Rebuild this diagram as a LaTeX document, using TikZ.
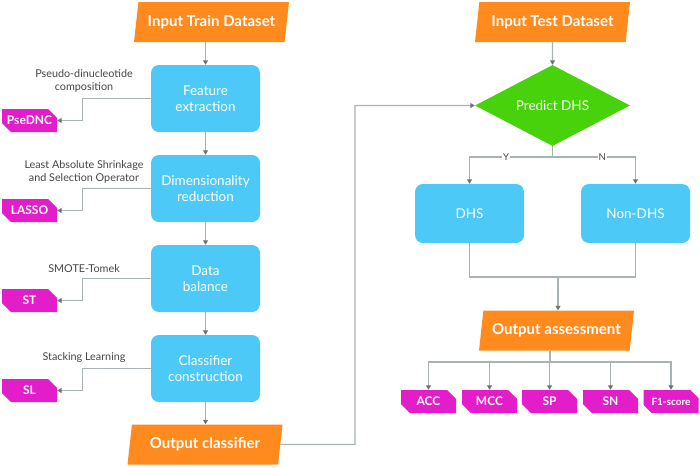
\documentclass[tikz,border=0pt]{standalone}
\usepackage{fontspec}
\setmainfont{Lato}
\usepackage{tikz}
\usetikzlibrary{shapes.geometric}
\usetikzlibrary{shapes.misc}
\usetikzlibrary{arrows.meta}
\definecolor{dsorange}{HTML}{FF8A1E}
\definecolor{dsblue}{HTML}{4DC9F8}
\definecolor{dsgreen}{HTML}{48D20C}
\definecolor{dsmagenta}{HTML}{E41DCB}
\definecolor{linegray}{HTML}{A9B2B4}
\definecolor{tipgray}{HTML}{6B7475}
\definecolor{textgray}{HTML}{454545}

\tikzset{
 io/.style={trapezium, trapezium left angle=72, trapezium right angle=108,
   trapezium stretches body, fill=dsorange, text=white, inner sep=0,
   font=\bfseries\fontsize{15}{18}\selectfont, minimum height=40, minimum width=155},
 stepbox/.style={rectangle, rounded corners=8, fill=dsblue, text=white, align=center,
   font=\fontsize{13.5}{16}\selectfont, minimum width=109, minimum height=67, inner sep=0},
 tag/.style={chamfered rectangle, chamfered rectangle corners={north east,south west},
   chamfered rectangle sep=4.5, fill=dsmagenta, text=white, inner sep=0,
   font=\bfseries\fontsize{12}{14}\selectfont, minimum width=55, minimum height=23},
 note/.style={text=textgray, align=center, font=\fontsize{10.8}{13}\selectfont},
 line/.style={draw=linegray, line width=1.1},
 conn/.style={line, -{Triangle[length=4.5,width=5,color=tipgray]}},
 yn/.style={fill=white, text=textgray, inner sep=1, font=\fontsize{9.5}{10}\selectfont}
}

\begin{document}
\begin{tikzpicture}[x=1pt,y=-1pt]
\useasboundingbox (0,0) rectangle (700,467);

% training branch
\node[io] (train) at (211.5,22) {Input Train Dataset};
\node[stepbox] (feat) at (205.5,98.5) {Feature\\extraction};
\node[stepbox] (dim) at (205.5,188.5) {Dimensionality\\reduction};
\node[stepbox] (bal) at (205.5,278.5) {Data\\balance};
\node[stepbox] (cls) at (205.5,368.5) {Classifier\\construction};
\node[io] (outcls) at (205,444.5) {Output classifier};

\node[tag] (psednc) at (29.5,120.5) {PseDNC};
\node[tag] (lasso) at (29.5,210.5) {LASSO};
\node[tag] (st) at (29.5,300.5) {ST};
\node[tag] (sl) at (29.5,390.5) {SL};

\node[note] (n1) at (84,80.5) {Pseudo-dinucleotide\\composition};
\node[note] (n2) at (84,171.5) {Least Absolute Shrinkage\\and Selection Operator};
\node[note] (n3) at (84,269) {SMOTE-Tomek};
\node[note] (n4) at (84,357.5) {Stacking Learning};

\draw[conn] (train.south -| feat.north) -- (feat.north);
\draw[conn] (feat) -- (dim);
\draw[conn] (dim) -- (bal);
\draw[conn] (bal) -- (cls);
\draw[conn] (cls.south) -- (cls.south |- outcls.north);

\draw[conn] (feat.west) -- ++(-68,0) |- (psednc.east);
\draw[conn] (dim.west) -- ++(-68,0) |- (lasso.east);
\draw[conn] (bal.west) -- ++(-68,0) |- (st.east);
\draw[conn] (cls.west) -- ++(-68,0) |- (sl.east);

% test branch
\node[io] (test) at (552.5,22) {Input Test Dataset};
\node[diamond, fill=dsgreen, text=white, inner sep=0, aspect=1.91,
  minimum width=155, minimum height=81, font=\fontsize{13.5}{16}\selectfont] (pred) at (552.5,105.5) {Predict DHS};
\node[stepbox, minimum height=59] (dhs) at (469.5,213.5) {DHS};
\node[stepbox, minimum height=59] (nondhs) at (635.5,213.5) {Non-DHS};
\node[io] (assess) at (556.5,330.5) {Output assessment};

\coordinate (loop) at (355,444.5);
\coordinate (split) at (552.5,157);
\coordinate (merge) at (558,277);
\coordinate (fan) at (550,362);

\draw[conn] (outcls.east) -- (loop) |- (pred.west);
\draw[conn] (test.south) -- (pred.north);
\draw[line] (pred.south) -- (split);
\draw[conn] (split) -| node[yn, pos=0.28] {Y} (dhs.north);
\draw[conn] (split) -| node[yn, pos=0.3] {N} (nondhs.north);
\draw[line] (dhs.south) |- (merge) -| (nondhs.south);
\draw[conn] (merge) -- (merge |- assess.north);

\draw[line] (assess.south -| fan) -- (fan);
\foreach \name/\txt/\xx in {acc/ACC/428.5, mcc/MCC/489.5, sp/SP/549.5, sn/SN/610.5,
    fone/{\fontsize{10}{12}\selectfont F1-score}/671}{
  \node[tag] (\name) at (\xx,401.5) {\txt};
  \draw[conn] (fan) -| (\name.north);
}
\end{tikzpicture}
\end{document}
